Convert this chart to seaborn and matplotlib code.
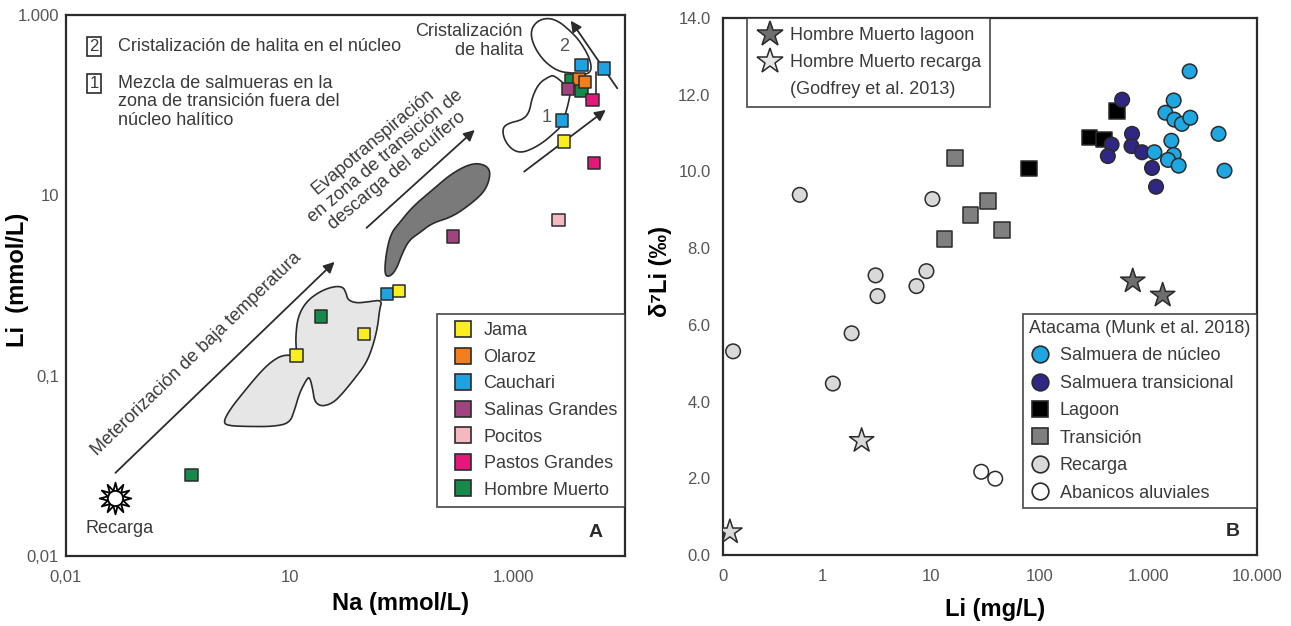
import numpy as np
import pandas as pd
import matplotlib
matplotlib.use("Agg")
import matplotlib.pyplot as plt
from matplotlib.lines import Line2D
from matplotlib.patches import Polygon
from matplotlib.ticker import NullLocator
import seaborn as sns

# ==============================================================================
# Panel A: Li vs Na (mmol/L), salares de la Puna
# ==============================================================================
SITES = ['Jama', 'Olaroz', 'Cauchari', 'Salinas Grandes', 'Pocitos',
         'Pastos Grandes', 'Hombre Muerto']
SITE_COLORS = ['#fbee1f', '#f27f1b', '#1ea3e0', '#a0437e', '#f5b7c0',
               '#e6177c', '#17894b']

jama_na = [11.5, 46.5, 94.7, 2850]
jama_li = [0.167, 0.288, 0.871, 39.4]
olaroz_na = [3880, 4365]
olaroz_li = [194, 182]
cauchari_na = [74, 4100, 6495, 2720]
cauchari_li = [0.80, 279, 256, 67.3]
salinas_na = [291, 3100]
salinas_li = [3.48, 151]
pocitos_na = [2535]
pocitos_li = [5.33]
pastos_na = [5100, 5285]
pastos_li = [114, 22.7]
hmuerto_na = [1.33, 19.2, 3270, 4100]
hmuerto_li = [0.0079, 0.452, 190, 145]

recarga_a_na = [0.277]
recarga_a_li = [0.0044]

# campos (log10 Na, log10 Li)
CAMPO_CLARO = [(1.060, -0.780), (0.940, -0.769), (0.837, -0.844), (0.732, -0.969),
               (0.583, -1.191), (0.464, -1.379), (0.404, -1.523), (0.464, -1.557),
               (0.643, -1.564), (0.851, -1.564), (1.000, -1.527), (1.045, -1.379),
               (1.089, -1.191), (1.149, -1.047), (1.179, -1.010), (1.208, -1.157),
               (1.223, -1.287), (1.283, -1.343), (1.387, -1.305), (1.476, -1.194),
               (1.596, -1.010), (1.685, -0.861), (1.744, -0.677), (1.788, -0.456),
               (1.804, -0.271), (1.828, -0.160), (1.714, -0.179), (1.596, -0.196),
               (1.521, -0.160), (1.506, -0.085), (1.476, -0.012), (1.387, -0.012),
               (1.268, -0.068), (1.149, -0.179), (1.074, -0.345), (1.054, -0.567),
               (1.060, -0.714)]
CAMPO_OSCURO = [(1.848, 0.118), (1.863, 0.361), (1.908, 0.583), (1.982, 0.694),
                (2.098, 0.871), (2.277, 1.060), (2.455, 1.248), (2.634, 1.359),
                (2.756, 1.337), (2.801, 1.248), (2.756, 1.060), (2.634, 0.916),
                (2.455, 0.761), (2.277, 0.694), (2.161, 0.583), (2.071, 0.506),
                (2.009, 0.361), (1.953, 0.173), (1.893, 0.095)]
CAMPO_1 = [(3.366, 2.335), (3.321, 2.316), (3.232, 2.246), (3.170, 2.091),
           (3.143, 1.914), (3.080, 1.836), (2.964, 1.803), (2.902, 1.747),
           (2.920, 1.614), (2.991, 1.503), (3.080, 1.470), (3.205, 1.537),
           (3.295, 1.614), (3.366, 1.692), (3.426, 1.758), (3.471, 1.914),
           (3.500, 2.058), (3.515, 2.169)]
CAMPO_2 = [(3.232, 2.945), (3.170, 2.867), (3.158, 2.759), (3.203, 2.612),
           (3.292, 2.468), (3.411, 2.371), (3.527, 2.357), (3.649, 2.335),
           (3.705, 2.390), (3.679, 2.538), (3.589, 2.723), (3.500, 2.834),
           (3.411, 2.926), (3.321, 2.967)]

FLECHAS_A = [((-0.558, -2.078), (1.402, 0.262)),
             ((1.688, 0.639), (2.656, 1.725)),
             ((3.098, 1.263), (3.828, 1.947)),
             ((3.931, 2.187), (3.515, 2.937))]
LINEAS_A = [((3.738, 2.058), (3.738, 2.368))]

# ==============================================================================
# Panel B: d7Li vs Li (mg/L)
# ==============================================================================
GROUPS_B = ['Salmuera de núcleo', 'Salmuera transicional', 'Lagoon', 'Transición',
            'Recarga', 'Abanicos aluviales']
GROUP_COLORS = ['#1ea7e0', '#302683', '#000000', '#7f7f7f', '#d9d9d9', '#ffffff']
GROUP_MARKERS = ['o', 'o', 's', 's', 'o', 'o']

nucleo_li = [2399, 1711, 1436, 1735, 2037, 2433, 4426, 1629, 1137, 1711, 1517, 1901, 5023]
nucleo_d7 = [12.61, 11.85, 11.53, 11.35, 11.24, 11.40, 10.98, 10.80, 10.50, 10.43, 10.30, 10.15, 10.02]
transic_li = [574, 708, 459, 424, 700, 875, 1081, 1177]
transic_d7 = [11.87, 10.98, 10.70, 10.40, 10.66, 10.50, 10.09, 9.60]
lagoon_li = [80, 516, 288, 390]
lagoon_d7 = [10.08, 11.57, 10.89, 10.83]
transicion_li = [16.7, 33.6, 23.0, 13.3, 45.2]
transicion_d7 = [10.35, 9.23, 8.86, 8.24, 8.47]
recarga_li = [0.62, 10.3, 3.09, 3.22, 9.08, 7.35, 1.86, 0.151, 1.25]
recarga_d7 = [9.39, 9.28, 7.29, 6.75, 7.40, 7.01, 5.78, 5.31, 4.47]
abanicos_li = [29.0, 39.0]
abanicos_d7 = [2.17, 1.99]

hm_lagoon_li = [719, 1355]
hm_lagoon_d7 = [7.14, 6.77]
hm_recarga_li = [2.30, 0.141]
hm_recarga_d7 = [2.98, 0.60]

# ==============================================================================
# Data frames
# ==============================================================================
a_rows = [('Hombre Muerto', hmuerto_na, hmuerto_li), ('Cauchari', cauchari_na, cauchari_li),
          ('Jama', jama_na, jama_li), ('Olaroz', olaroz_na, olaroz_li),
          ('Salinas Grandes', salinas_na, salinas_li), ('Pocitos', pocitos_na, pocitos_li),
          ('Pastos Grandes', pastos_na, pastos_li)]
df_a = pd.concat([pd.DataFrame({'site': s, 'Na': x, 'Li': y}) for s, x, y in a_rows],
                 ignore_index=True)

b_rows = [('Abanicos aluviales', abanicos_li, abanicos_d7), ('Recarga', recarga_li, recarga_d7),
          ('Transición', transicion_li, transicion_d7), ('Lagoon', lagoon_li, lagoon_d7),
          ('Salmuera transicional', transic_li, transic_d7),
          ('Salmuera de núcleo', nucleo_li, nucleo_d7),
          ('HM lagoon', hm_lagoon_li, hm_lagoon_d7), ('HM recarga', hm_recarga_li, hm_recarga_d7)]
df_b = pd.concat([pd.DataFrame({'group': g, 'Li': x, 'd7Li': y}) for g, x, y in b_rows],
                 ignore_index=True)

pal_b = dict(zip(GROUPS_B, GROUP_COLORS))
pal_b.update({'HM lagoon': '#6e6e6e', 'HM recarga': '#d9d9d9'})
mk_b = dict(zip(GROUPS_B, GROUP_MARKERS))
mk_b.update({'HM lagoon': '*', 'HM recarga': '*'})
sz_b = {g: 110 for g in GROUPS_B}
sz_b.update({'Lagoon': 125, 'Transición': 125, 'HM lagoon': 340, 'HM recarga': 340})


def smooth(pts, n=3):
    p = np.asarray(pts, float)
    for _ in range(n):
        q = 0.75 * p + 0.25 * np.roll(p, -1, axis=0)
        r = 0.25 * p + 0.75 * np.roll(p, -1, axis=0)
        p = np.empty((2 * len(q), 2))
        p[0::2] = q
        p[1::2] = r
    return 10 ** p


# ==============================================================================
# Figure
# ==============================================================================
sns.set_style('white')
plt.rcParams['font.family'] = ['Liberation Sans', 'DejaVu Sans']
INK = '#2b2b2b'
TXT = '#3a3a3a'

fig = plt.figure(figsize=(12.91, 6.26), dpi=100)
axA = fig.add_axes([66 / 1291, 1 - 556 / 626, 559 / 1291, 541 / 626])
axB = fig.add_axes([723 / 1291, 1 - 555 / 626, 534 / 1291, 537 / 626])

# ---- Panel A ----
axA.set_xscale('log')
axA.set_yscale('log')

axA.add_patch(Polygon(smooth(CAMPO_CLARO, 2), closed=True, fc='#e6e6e6', ec=INK, lw=1.2, zorder=1))
axA.add_patch(Polygon(smooth(CAMPO_OSCURO), closed=True, fc='#7a7a7a', ec=INK, lw=1.2, zorder=1))
axA.add_patch(Polygon(smooth(CAMPO_1), closed=True, fc='none', ec=INK, lw=1.2, zorder=1))
axA.add_patch(Polygon(smooth(CAMPO_2), closed=True, fc='none', ec=INK, lw=1.2, zorder=1))

for (x0, y0), (x1, y1) in FLECHAS_A:
    axA.annotate('', xy=(10 ** x1, 10 ** y1), xytext=(10 ** x0, 10 ** y0),
                 arrowprops=dict(arrowstyle='-|>', color=INK, lw=1.3, mutation_scale=16,
                                 shrinkA=0, shrinkB=0), zorder=2)
for (x0, y0), (x1, y1) in LINEAS_A:
    axA.plot([10 ** x0, 10 ** x1], [10 ** y0, 10 ** y1], color=INK, lw=1.2, zorder=2)

sns.scatterplot(data=df_a, x='Na', y='Li', hue='site', palette=dict(zip(SITES, SITE_COLORS)),
                marker='s', s=80, edgecolor=INK, linewidth=1.1, legend=False, ax=axA, zorder=5)
# recarga: estrella de 12 puntas con circulo interior
axA.scatter(recarga_a_na, recarga_a_li, marker=(12, 1, 0), s=520, facecolor='white',
            edgecolor='black', linewidth=1.3, zorder=5)
axA.scatter(recarga_a_na, recarga_a_li, marker='o', s=120, facecolor='white',
            edgecolor='black', linewidth=1.3, zorder=6)

axA.set_xlim(0.1, 1e4)
axA.set_ylim(1e-3, 1e3)
axA.set_xticks([0.1, 10, 1000], ['0,01', '10', '1.000'])
axA.set_yticks([1e-3, 0.1, 10, 1000], ['0,01', '0,1', '10', '1.000'])
axA.xaxis.set_minor_locator(NullLocator())
axA.yaxis.set_minor_locator(NullLocator())
axA.set_xlabel('Na (mmol/L)', fontsize=17, fontweight='bold', color='black')
axA.set_ylabel('Li  (mmol/L)', fontsize=17, fontweight='bold', color='black')
axA.xaxis.set_label_coords(0.598, -0.066)
axA.yaxis.set_label_coords(-0.066, 0.51)

axA.text(0.234, 0.373, 'Meterorización de baja temperatura', transform=axA.transAxes,
         rotation=44, rotation_mode='anchor', ha='center', va='center', fontsize=13, color=TXT)
axA.text(0.571, 0.738, 'Evapotranspiración\nen zona de transición de\ndescarga del acuífero',
         transform=axA.transAxes, rotation=40, rotation_mode='anchor', ha='center',
         va='center', multialignment='center', fontsize=13, color=TXT, linespacing=1.15)
axA.text(0.8175, 0.952, 'Cristalización\nde halita', transform=axA.transAxes, ha='right',
         va='center', multialignment='right', fontsize=13, color=TXT, linespacing=1.1)
axA.text(0.891, 0.941, '2', transform=axA.transAxes, ha='center', va='center', fontsize=13, color='#555')
axA.text(0.859, 0.811, '1', transform=axA.transAxes, ha='center', va='center', fontsize=13, color='#555')
for yy, num in [(0.942, '2'), (0.874, '1')]:
    axA.text(0.050, yy, num, transform=axA.transAxes, ha='center', va='center', fontsize=12,
             color=TXT, bbox=dict(boxstyle='square,pad=0.12', fc='white', ec=INK, lw=1.2))
axA.text(0.093, 0.942, 'Cristalización de halita en el núcleo', transform=axA.transAxes,
         ha='left', va='center', fontsize=13, color=TXT)
axA.text(0.093, 0.890, 'Mezcla de salmueras en la\nzona de transición fuera del\nnúcleo halítico',
         transform=axA.transAxes, ha='left', va='top', fontsize=13, color=TXT, linespacing=1.15)
axA.text(0.095, 0.050, 'Recarga', transform=axA.transAxes, ha='center', va='center',
         fontsize=13, color=TXT)
axA.text(0.948, 0.044, 'A', transform=axA.transAxes, ha='center', va='center',
         fontsize=14, fontweight='bold', color=INK)

hA = [Line2D([0], [0], marker='s', ls='none', markerfacecolor=c, markeredgecolor=INK,
             markersize=11, markeredgewidth=1.2) for c in SITE_COLORS]
legA = axA.legend(hA, SITES, loc='upper right', bbox_to_anchor=(1.0, 0.447), frameon=True,
                  fancybox=False, edgecolor=INK, fontsize=13, borderpad=0.45,
                  labelspacing=0.53, handletextpad=0.15, handlelength=2.0, borderaxespad=0)
legA.get_frame().set_linewidth(1.3)
for t in legA.get_texts():
    t.set_color(TXT)

# ---- Panel B ----
axB.set_xscale('log')
sns.scatterplot(data=df_b, x='Li', y='d7Li', hue='group', palette=pal_b, style='group',
                markers=mk_b, size='group', sizes=sz_b, edgecolor=INK, linewidth=1.1,
                legend=False, ax=axB, zorder=5)

x_left = 10 ** -0.914
axB.set_xlim(x_left, 1e4)
axB.set_ylim(0, 14)
axB.set_xticks([x_left, 1, 10, 100, 1000, 1e4], ['0', '1', '10', '100', '1.000', '10.000'])
axB.xaxis.set_minor_locator(NullLocator())
axB.set_yticks(np.arange(0, 15, 2), [f'{v:.1f}' for v in np.arange(0, 15, 2)])
axB.set_xlabel('Li (mg/L)', fontsize=17, fontweight='bold', color='black')
axB.set_ylabel('δ⁷Li (‰)', fontsize=17, fontweight='bold', color='black')
axB.xaxis.set_label_coords(0.51, -0.080)
axB.yaxis.set_label_coords(-0.095, 0.528)
axB.text(0.954, 0.044, 'B', transform=axB.transAxes, ha='center', va='center',
         fontsize=14, fontweight='bold', color=INK)

hB1 = [Line2D([0], [0], marker='*', ls='none', markerfacecolor='#6e6e6e', markeredgecolor=INK,
              markersize=19, markeredgewidth=1.1),
       Line2D([0], [0], marker='*', ls='none', markerfacecolor='#e6e6e6', markeredgecolor=INK,
              markersize=19, markeredgewidth=1.1),
       Line2D([0], [0], ls='none', marker='')]
legB1 = axB.legend(hB1, ['Hombre Muerto lagoon', 'Hombre Muerto recarga', '(Godfrey et al. 2013)'],
                   loc='upper left', bbox_to_anchor=(0.0449, 1.0), frameon=True, fancybox=False,
                   edgecolor=INK, fontsize=13, borderpad=0.5, labelspacing=0.55,
                   handletextpad=0.36, handlelength=1.5, borderaxespad=0)
legB1.get_frame().set_linewidth(1.3)
for t in legB1.get_texts():
    t.set_color(TXT)
axB.add_artist(legB1)

hB2 = [Line2D([0], [0], marker=m, ls='none', markerfacecolor=c, markeredgecolor=INK,
              markersize=12, markeredgewidth=1.2) for c, m in zip(GROUP_COLORS, GROUP_MARKERS)]
legB2 = axB.legend(hB2, GROUPS_B, title='Atacama (Munk et al. 2018)', loc='upper right',
                   bbox_to_anchor=(1.0, 0.4496), frameon=True, fancybox=False, edgecolor=INK,
                   fontsize=13, title_fontsize=13, borderpad=0.35, labelspacing=0.58,
                   handletextpad=0.5, handlelength=1.2, borderaxespad=0, alignment='left')
legB2.get_frame().set_linewidth(1.3)
legB2.get_title().set_color(TXT)
for t in legB2.get_texts():
    t.set_color(TXT)

for ax in (axA, axB):
    for sp in ax.spines.values():
        sp.set_visible(True)
        sp.set_color(INK)
        sp.set_linewidth(1.6)
    ax.tick_params(axis='both', which='major', direction='in', length=18, width=1.6,
                   color=INK, labelsize=12, labelcolor='#555555')
    ax.tick_params(axis='x', pad=10)
    ax.tick_params(axis='y', pad=5)
    ax.grid(False)
axB.tick_params(axis='y', pad=9)

fig.savefig('out.png', dpi=100)
